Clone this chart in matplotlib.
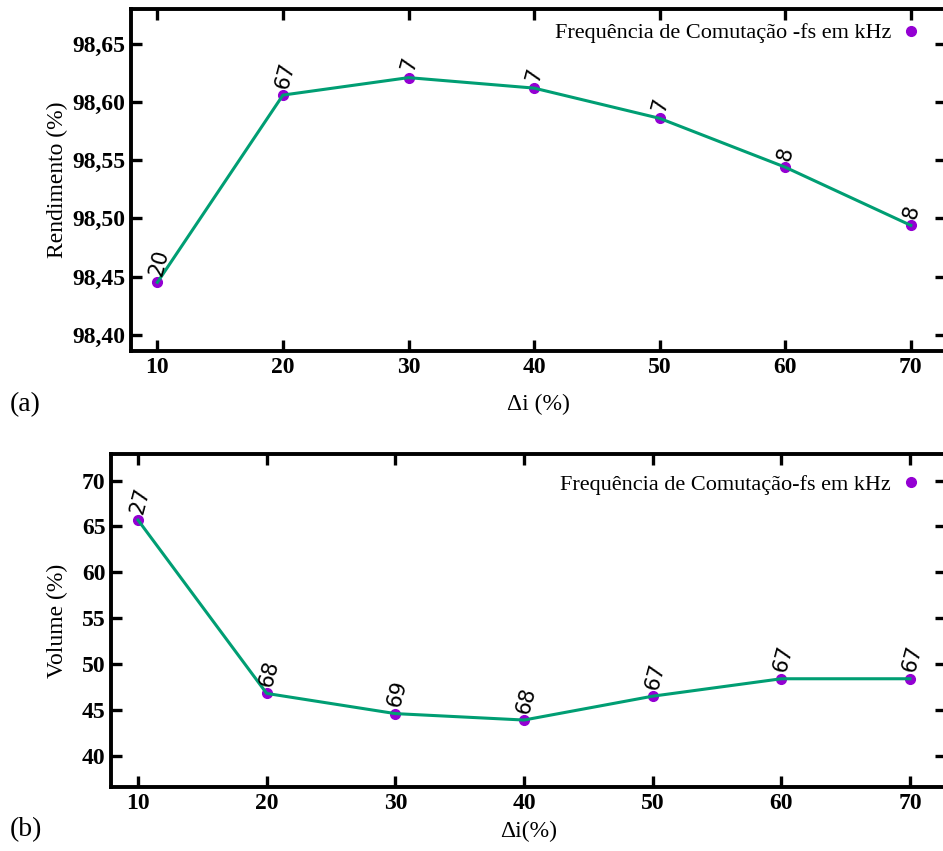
import matplotlib
matplotlib.use("Agg")
import matplotlib.pyplot as plt
from matplotlib.lines import Line2D
from matplotlib.ticker import FuncFormatter

# ---- data ----
delta_i = [10, 20, 30, 40, 50, 60, 70]
rendimento = [98.445, 98.606, 98.621, 98.612, 98.586, 98.544, 98.494]
fs_a = ["20", "67", "7", "7", "7", "8", "8"]
volume = [65.7, 46.8, 44.6, 43.9, 46.5, 48.4, 48.4]
fs_b = ["27", "68", "69", "68", "67", "67", "67"]

yticks_a = [98.40, 98.45, 98.50, 98.55, 98.60, 98.65]
yticks_b = [40, 45, 50, 55, 60, 65, 70]
xticks = [10, 20, 30, 40, 50, 60, 70]

LINE_C = "#009e73"
MARK_C = "#9400d3"
SERIF = "Liberation Serif"

fig = plt.figure(figsize=(9.43, 8.51), dpi=100)
ax_a = fig.add_axes([131/943, 1-351/851, (946-131)/943, (351-9)/851])
ax_b = fig.add_axes([111/943, 1-787/851, (946-111)/943, (787-454)/851])


def style(ax, ylim, yticks, fmt, xlabel, ylabel, legend_label, xpad, leg_y):
    ax.set_xlim(7.9, 72.8)
    ax.set_ylim(*ylim)
    ax.set_xticks(xticks)
    ax.set_yticks(yticks)
    ax.yaxis.set_major_formatter(FuncFormatter(fmt))
    ax.tick_params(direction="in", length=8, width=2.4, top=True, right=True,
                   labelsize=17, pad=4)
    for lab in ax.get_xticklabels() + ax.get_yticklabels():
        lab.set_fontfamily(SERIF)
        lab.set_fontweight("bold")
    for sp in ax.spines.values():
        sp.set_linewidth(2.8)
    ax.set_xlabel(xlabel, fontsize=17, family=SERIF, labelpad=xpad)
    ax.set_ylabel(ylabel, fontsize=17, family=SERIF)
    ax.yaxis.set_label_coords(57/943, 0.5, transform=None)
    ax.yaxis.label.set_transform(
        matplotlib.transforms.blended_transform_factory(fig.transFigure, ax.transAxes))
    ax.yaxis.label.set_position((57/943, 0.5))
    ax.yaxis.label.set_verticalalignment("center")
    h = Line2D([], [], color=MARK_C, marker="o", linestyle="none", markersize=7)
    ax.legend([h], [legend_label], loc="upper right", frameon=False,
              markerfirst=False, prop={"family": SERIF, "size": 16},
              bbox_to_anchor=(0.998, leg_y), handletextpad=0.3,
              handlelength=1.2)


def plot_series(ax, x, y, labels):
    ax.plot(x, y, color=LINE_C, linewidth=2.2, zorder=2)
    ax.plot(x, y, linestyle="none", marker="o", color=MARK_C, markersize=7, zorder=1)
    for xi, yi, lab in zip(x, y, labels):
        ax.annotate(lab, (xi, yi), xytext=(-1, 5), textcoords="offset points",
                    rotation=75, rotation_mode="anchor", fontsize=15,
                    family="DejaVu Sans", ha="left", va="center")


plot_series(ax_a, delta_i, rendimento, fs_a)
style(ax_a, (98.386, 98.680), yticks_a, lambda v, p: f"{v:.2f}".replace(".", ","),
      "Δi (%)", "Rendimento (%)", "Frequência de Comutação -fs em kHz", 12, 1.018)

plot_series(ax_b, delta_i, volume, fs_b)
style(ax_b, (36.6, 72.9), yticks_b, lambda v, p: f"{v:.0f}",
      "Δi(%)", "Volume (%)", "Frequência de Comutação-fs em kHz", 5, 1.0)

fig.text(10/943, 1-405/851, "(a)", fontsize=20, family=SERIF, va="center")
fig.text(10/943, 1-830/851, "(b)", fontsize=20, family=SERIF, va="center")

fig.savefig("out.png", dpi=100)
